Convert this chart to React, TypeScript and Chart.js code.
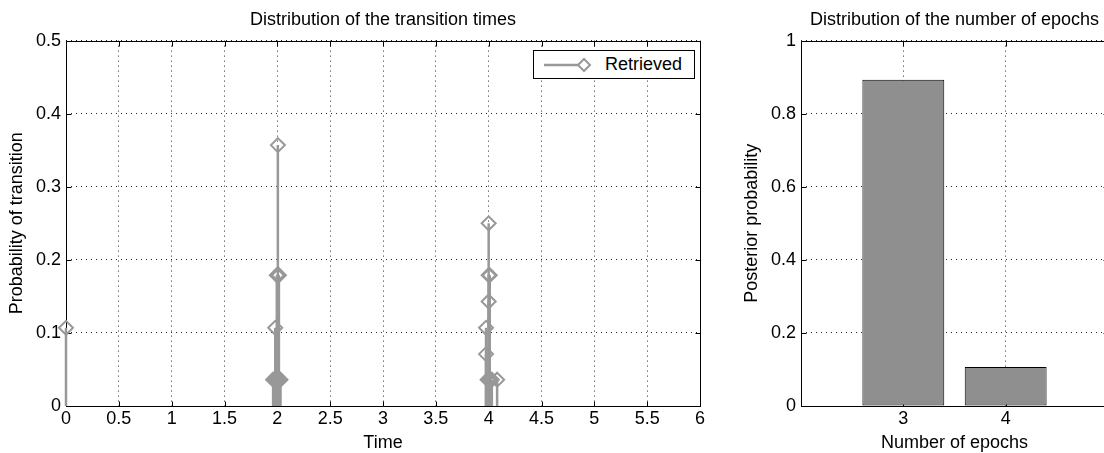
import React, { useEffect, useRef } from "react";
import { Chart, registerables } from "chart.js";

Chart.register(...registerables);

const FONT = '"Liberation Sans", Arial, Helvetica, sans-serif';
const STEM_COLOR = "rgb(152,152,152)";
const BAR_COLOR = "rgb(143,143,143)";

// ---- Left chart: distribution of the transition times (stem plot) ----
const leftTitle = "Distribution of the transition times";
const leftXLabel = "Time";
const leftYLabel = "Probability of transition";
const legendLabel = "Retrieved";
const timeRange = [0, 6];
const timeStep = 0.5;
const probRange = [0, 0.5];
const probStep = 0.1;

// stem positions (time) and heights (probability)
const stemTimes = [
  0,
  1.96, 1.97, 1.98, 1.99, 2.0, 2.01, 2.02, 2.03,
  1.98,
  1.995, 2.005, 2.015,
  2.005,
  3.99, 4.0, 4.02, 4.03,
  4.08,
  3.975, 3.975,
  4.0,
  4.0, 4.01,
  4.0,
];
const stemProbs = [
  0.107,
  0.036, 0.036, 0.036, 0.036, 0.036, 0.036, 0.036, 0.036,
  0.107,
  0.179, 0.179, 0.179,
  0.357,
  0.036, 0.036, 0.036, 0.036,
  0.036,
  0.107, 0.071,
  0.143,
  0.179, 0.179,
  0.25,
];

// ---- Right chart: distribution of the number of epochs (bar) ----
const rightTitle = "Distribution of the number of epochs";
const rightXLabel = "Number of epochs";
const rightYLabel = "Posterior probability";
const epochCounts = [3, 4];
const epochProbs = [0.893, 0.107];
const epochRange = [2, 5];
const posteriorRange = [0, 1];
const posteriorStep = 0.2;

const fmt = (v: any) => String(+Number(v).toFixed(4));

const boxPlugin = {
  id: "matlabBox",
  beforeDatasetsDraw(chart: any) {
    const { ctx, chartArea, scales } = chart;
    const l = Math.round(chartArea.left) + 0.5;
    const r = Math.round(chartArea.right) + 0.5;
    const t = Math.round(chartArea.top) + 0.5;
    const b = Math.round(chartArea.bottom) + 0.5;
    const tl = 5;
    ctx.save();
    ctx.strokeStyle = "#000";
    ctx.lineWidth = 1;
    ctx.setLineDash([]);
    ctx.beginPath();
    ctx.rect(l, t, r - l, b - t);
    const xs = scales.x;
    xs.ticks.forEach((tk: any) => {
      const px = Math.round(xs.getPixelForValue(tk.value)) + 0.5;
      ctx.moveTo(px, b);
      ctx.lineTo(px, b - tl);
      ctx.moveTo(px, t);
      ctx.lineTo(px, t + tl);
    });
    const ys = scales.y;
    ys.ticks.forEach((tk: any) => {
      const py = Math.round(ys.getPixelForValue(tk.value)) + 0.5;
      ctx.moveTo(l, py);
      ctx.lineTo(l + tl, py);
      ctx.moveTo(r, py);
      ctx.lineTo(r - tl, py);
    });
    ctx.stroke();
    ctx.restore();
  },
};

function axisCommon() {
  return {
    offset: false,
    grid: {
      color: "rgba(0,0,0,0.85)",
      lineWidth: 1,
      drawTicks: false,
      offset: false,
    },
    border: { display: false, dash: [1, 4] },
  };
}

function titleFont() {
  return { family: FONT, size: 18, weight: "normal" as const, lineHeight: 1.2 };
}

function LeftChart() {
  const ref = useRef<HTMLCanvasElement | null>(null);
  useEffect(() => {
    if (!ref.current) return;
    const datasets = stemTimes.map((x, i) => ({
      label: legendLabel,
      data: [
        { x, y: 0 },
        { x, y: stemProbs[i] },
      ],
      borderColor: STEM_COLOR,
      borderWidth: 2.5,
      pointRadius: [0, 7],
      pointHoverRadius: [0, 7],
      pointStyle: "rectRot",
      pointBorderColor: STEM_COLOR,
      pointBackgroundColor: "rgba(0,0,0,0)",
      pointBorderWidth: 2,
      clip: false,
      tension: 0,
    }));
    const chart = new Chart(ref.current, {
      type: "line",
      data: { datasets },
      options: {
        animation: false,
        responsive: false,
        devicePixelRatio: 1,
        events: [],
        layout: { padding: { left: 0, right: 20, top: 0, bottom: 0 } },
        plugins: {
          legend: { display: false },
          tooltip: { enabled: false },
          title: {
            display: true,
            text: leftTitle,
            color: "#000",
            font: titleFont(),
            padding: { top: 9, bottom: 10 },
            fullSize: false,
          },
        },
        scales: {
          x: {
            type: "linear",
            min: timeRange[0],
            max: timeRange[1],
            ...axisCommon(),
            ticks: {
              stepSize: timeStep,
              color: "#000",
              padding: 2,
              maxRotation: 0,
              autoSkip: false,
              font: { family: FONT, size: 18 },
              callback: fmt,
            },
            title: {
              display: true,
              text: leftXLabel,
              color: "#000",
              font: titleFont(),
              padding: { top: 0, bottom: 6 },
            },
            afterFit: (s: any) => {
              s.height = 54;
            },
          },
          y: {
            type: "linear",
            min: probRange[0],
            max: probRange[1],
            ...axisCommon(),
            ticks: {
              stepSize: probStep,
              color: "#000",
              padding: 5,
              font: { family: FONT, size: 18 },
              callback: fmt,
            },
            title: {
              display: true,
              text: leftYLabel,
              color: "#000",
              font: titleFont(),
              padding: { top: 6, bottom: 0 },
            },
            afterFit: (s: any) => {
              s.width = 66;
            },
          },
        },
      },
      plugins: [boxPlugin],
    } as any);
    return () => chart.destroy();
  }, []);
  return (
    <canvas
      ref={ref}
      width={720}
      height={460}
      style={{ position: "absolute", left: 0, top: 0, width: 720, height: 460 }}
    />
  );
}

function RightChart() {
  const ref = useRef<HTMLCanvasElement | null>(null);
  useEffect(() => {
    if (!ref.current) return;
    const chart = new Chart(ref.current, {
      type: "bar",
      data: {
        datasets: [
          {
            label: rightYLabel,
            data: epochCounts.map((x, i) => ({ x, y: epochProbs[i] })),
            backgroundColor: BAR_COLOR,
            borderColor: "#000",
            borderWidth: 1,
            borderSkipped: false,
            barPercentage: 0.8,
            categoryPercentage: 1,
          },
        ],
      },
      options: {
        animation: false,
        responsive: false,
        devicePixelRatio: 1,
        events: [],
        layout: { padding: { left: 0, right: 32, top: 0, bottom: 0 } },
        plugins: {
          legend: { display: false },
          tooltip: { enabled: false },
          title: {
            display: true,
            text: rightTitle,
            color: "#000",
            font: titleFont(),
            padding: { top: 9, bottom: 10 },
            fullSize: false,
          },
        },
        scales: {
          x: {
            type: "linear",
            min: epochRange[0],
            max: epochRange[1],
            ...axisCommon(),
            afterBuildTicks: (s: any) => {
              s.ticks = epochCounts.map((v) => ({ value: v }));
            },
            ticks: {
              color: "#000",
              padding: 2,
              maxRotation: 0,
              autoSkip: false,
              font: { family: FONT, size: 18 },
              callback: fmt,
            },
            title: {
              display: true,
              text: rightXLabel,
              color: "#000",
              font: titleFont(),
              padding: { top: 0, bottom: 6 },
            },
            afterFit: (s: any) => {
              s.height = 54;
            },
          },
          y: {
            type: "linear",
            min: posteriorRange[0],
            max: posteriorRange[1],
            ...axisCommon(),
            ticks: {
              stepSize: posteriorStep,
              color: "#000",
              padding: 5,
              font: { family: FONT, size: 18 },
              callback: fmt,
            },
            title: {
              display: true,
              text: rightYLabel,
              color: "#000",
              font: titleFont(),
              padding: { top: 21, bottom: 0 },
            },
            afterFit: (s: any) => {
              s.width = 81;
            },
          },
        },
      },
      plugins: [boxPlugin],
    } as any);
    return () => chart.destroy();
  }, []);
  return (
    <canvas
      ref={ref}
      width={420}
      height={460}
      style={{ position: "absolute", left: 720, top: 0, width: 420, height: 460 }}
    />
  );
}

function Legend() {
  return (
    <div
      style={{
        position: "absolute",
        left: 533,
        top: 50,
        width: 162,
        height: 29,
        boxSizing: "border-box",
        border: "1px solid #000",
        background: "#fff",
        fontFamily: FONT,
        fontSize: 18,
        color: "#000",
      }}
    >
      <svg
        width={50}
        height={27}
        style={{ position: "absolute", left: 9, top: 0 }}
      >
        <line x1={1} y1={14} x2={42} y2={14} stroke={STEM_COLOR} strokeWidth={2.5} />
        <polygon
          points="35,14 41,8 47,14 41,20"
          fill="#fff"
          stroke={STEM_COLOR}
          strokeWidth={2}
        />
      </svg>
      <span
        style={{
          position: "absolute",
          left: 71,
          top: 0,
          lineHeight: "27px",
          whiteSpace: "nowrap",
        }}
      >
        {legendLabel}
      </span>
    </div>
  );
}

export default function App() {
  return (
    <div
      style={{
        position: "fixed",
        left: 0,
        top: 0,
        width: 1104,
        height: 453,
        overflow: "hidden",
        background: "#fff",
      }}
    >
      <LeftChart />
      <RightChart />
      <Legend />
    </div>
  );
}
